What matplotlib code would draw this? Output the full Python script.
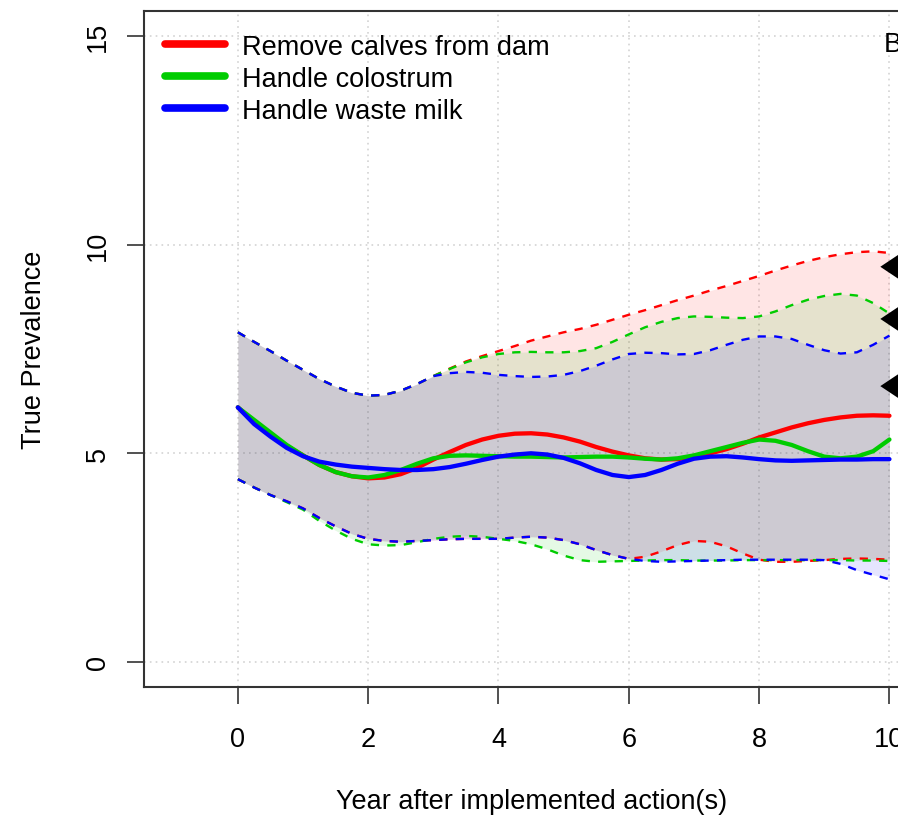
import matplotlib
matplotlib.use("Agg")
import matplotlib.pyplot as plt
import numpy as np
from matplotlib.lines import Line2D

plt.rcParams['font.family'] = ['Liberation Sans', 'DejaVu Sans']

years = [0, 0.25, 0.5, 0.75, 1, 1.25, 1.5, 1.75, 2, 2.25, 2.5, 2.75, 3, 3.25, 3.5, 3.75,
         4, 4.25, 4.5, 4.75, 5, 5.25, 5.5, 5.75, 6, 6.25, 6.5, 6.75, 7, 7.25, 7.5, 7.75,
         8, 8.25, 8.5, 8.75, 9, 9.25, 9.5, 9.75, 10]

red_mean = [6.1, 5.75, 5.45, 5.18, 4.95, 4.72, 4.55, 4.45, 4.4, 4.42, 4.5, 4.65, 4.85, 5.03, 5.2, 5.33,
            5.42, 5.47, 5.48, 5.45, 5.38, 5.28, 5.15, 5.04, 4.95, 4.88, 4.85, 4.86, 4.92, 5.0, 5.1, 5.23,
            5.38, 5.5, 5.62, 5.72, 5.8, 5.86, 5.9, 5.91, 5.9]
green_mean = [6.1, 5.8, 5.5, 5.2, 4.95, 4.72, 4.55, 4.45, 4.42, 4.48, 4.6, 4.75, 4.88, 4.94, 4.95, 4.94,
              4.93, 4.92, 4.92, 4.91, 4.9, 4.91, 4.92, 4.92, 4.9, 4.87, 4.85, 4.88, 4.95, 5.05, 5.15, 5.25,
              5.33, 5.3, 5.2, 5.05, 4.92, 4.88, 4.92, 5.05, 5.33]
blue_mean = [6.1, 5.7, 5.4, 5.13, 4.93, 4.8, 4.73, 4.68, 4.65, 4.62, 4.6, 4.6, 4.62, 4.67, 4.75, 4.84,
             4.92, 4.97, 5.0, 4.97, 4.89, 4.76, 4.6, 4.48, 4.43, 4.48, 4.6, 4.75, 4.87, 4.92, 4.93, 4.9,
             4.86, 4.83, 4.82, 4.83, 4.84, 4.85, 4.85, 4.86, 4.86]

red_upper = [7.9, 7.67, 7.45, 7.22, 7.0, 6.78, 6.6, 6.45, 6.38, 6.4, 6.5, 6.66, 6.85, 7.03, 7.2, 7.33,
             7.45, 7.57, 7.7, 7.8, 7.9, 7.98, 8.08, 8.2, 8.32, 8.43, 8.55, 8.67, 8.78, 8.9, 9.01, 9.13,
             9.25, 9.38, 9.5, 9.61, 9.7, 9.77, 9.82, 9.84, 9.8]
green_upper = [7.9, 7.67, 7.45, 7.22, 7.0, 6.78, 6.6, 6.45, 6.38, 6.4, 6.5, 6.66, 6.85, 7.02, 7.18, 7.3,
               7.38, 7.42, 7.43, 7.42, 7.42, 7.45, 7.52, 7.67, 7.85, 8.02, 8.15, 8.24, 8.28, 8.27, 8.25, 8.24,
               8.28, 8.4, 8.55, 8.68, 8.77, 8.82, 8.78, 8.6, 8.35]
blue_upper = [7.9, 7.67, 7.45, 7.22, 7.0, 6.78, 6.6, 6.45, 6.38, 6.4, 6.5, 6.66, 6.85, 6.92, 6.95, 6.93,
              6.88, 6.85, 6.83, 6.84, 6.88, 6.97, 7.1, 7.25, 7.38, 7.41, 7.4, 7.37, 7.38, 7.47, 7.6, 7.72,
              7.8, 7.8, 7.74, 7.6, 7.47, 7.39, 7.42, 7.6, 7.82]

red_lower = [4.38, 4.18, 4.0, 3.85, 3.68, 3.45, 3.25, 3.07, 2.95, 2.9, 2.88, 2.9, 2.92, 2.94, 2.95, 2.95,
             2.95, 2.98, 3.0, 2.98, 2.92, 2.82, 2.68, 2.56, 2.47, 2.52, 2.65, 2.8, 2.9, 2.88, 2.77, 2.6,
             2.45, 2.4, 2.4, 2.42, 2.44, 2.47, 2.48, 2.47, 2.45]
green_lower = [4.38, 4.18, 4.0, 3.83, 3.65, 3.38, 3.15, 2.95, 2.82, 2.79, 2.8, 2.87, 2.95, 3.0, 3.02, 3.0,
               2.95, 2.9, 2.82, 2.7, 2.55, 2.44, 2.4, 2.41, 2.42, 2.43, 2.44, 2.44, 2.43, 2.43, 2.43, 2.44,
               2.44, 2.44, 2.44, 2.44, 2.44, 2.44, 2.43, 2.43, 2.42]
blue_lower = [4.38, 4.18, 4.0, 3.85, 3.68, 3.45, 3.25, 3.07, 2.95, 2.9, 2.88, 2.9, 2.92, 2.94, 2.95, 2.95,
              2.95, 2.98, 3.0, 2.98, 2.92, 2.82, 2.68, 2.56, 2.47, 2.42, 2.4, 2.41, 2.42, 2.43, 2.44, 2.45,
              2.45, 2.45, 2.45, 2.45, 2.44, 2.35, 2.2, 2.09, 1.98]

labels = ["Remove calves from dam", "Handle colostrum", "Handle waste milk"]
colors = ["#FF0000", "#00CC00", "#0000FF"]

arrow_y = [9.47, 8.22, 6.61]
arrow_x = 9.86

xticks = [0, 2, 4, 6, 8, 10]
yticks = [0, 5, 10, 15]

FS = 19.5

fig = plt.figure(figsize=(8.98, 8.2), dpi=100)
ax = fig.add_axes([0.1604, 0.161, 0.862, 0.8244])
ax.set_xlim(-1.44, 10.44)
ax.set_ylim(-0.6, 15.6)

for v in xticks:
    ax.axvline(v, color='#d3d3d3', lw=1.2, ls=(0, (1, 2.5)), zorder=0)
for v in yticks:
    ax.axhline(v, color='#d3d3d3', lw=1.2, ls=(0, (1, 2.5)), zorder=0)

x = np.array(years)
series = [
    (red_mean, red_lower, red_upper),
    (green_mean, green_lower, green_upper),
    (blue_mean, blue_lower, blue_upper),
]
for (m, lo, up), c in zip(series, colors):
    ax.fill_between(x, lo, up, color=c, alpha=0.1, lw=0, zorder=1)
for (m, lo, up), c in zip(series, colors):
    ax.plot(x, lo, color=c, lw=1.7, ls=(0, (3.5, 3.5)), zorder=2)
    ax.plot(x, up, color=c, lw=1.7, ls=(0, (3.5, 3.5)), zorder=2)
for (m, lo, up), c, lab in zip(series, colors, labels):
    ax.plot(x, m, color=c, lw=3.1, zorder=3, label=lab, solid_capstyle='round',
            solid_joinstyle='round')

leg_handles = [Line2D([0], [0], color=c, lw=5.5, solid_capstyle='round') for c in colors]
ax.legend(leg_handles, labels, loc='upper left', bbox_to_anchor=(0.027, 0.966),
          frameon=False, fontsize=FS, handlelength=2.2, handletextpad=0.63,
          labelspacing=0.22, borderpad=0, borderaxespad=0)

ax.text(9.92, 14.8, "B", fontsize=FS, ha='left', va='center')

for yy in arrow_y:
    ax.annotate('', xy=(arrow_x, yy), xytext=(arrow_x + 1.0, yy),
                arrowprops=dict(arrowstyle='-|>,head_length=1.5,head_width=1.0',
                                mutation_scale=10, color='black', lw=0,
                                shrinkA=0, shrinkB=0), annotation_clip=False)

for s in ax.spines.values():
    s.set_color('#333333')
    s.set_linewidth(1.5)

ax.set_xticks(xticks)
ax.set_xticklabels([str(v) for v in xticks])
ax.set_yticks(yticks)
ax.set_yticklabels([str(v) for v in yticks], rotation=90, va='center')
ax.tick_params(axis='both', labelsize=FS, length=12, width=1.2, color='#333333', direction='out')
ax.tick_params(axis='x', pad=16)
ax.tick_params(axis='y', pad=12)

ax.set_xlabel("Year after implemented action(s)", fontsize=FS)
ax.set_ylabel("True Prevalence", fontsize=FS)
ax.xaxis.set_label_coords(0.5, -0.1494)
ax.yaxis.set_label_coords(-0.125, 0.5)

fig.savefig("out.png", dpi=100)
